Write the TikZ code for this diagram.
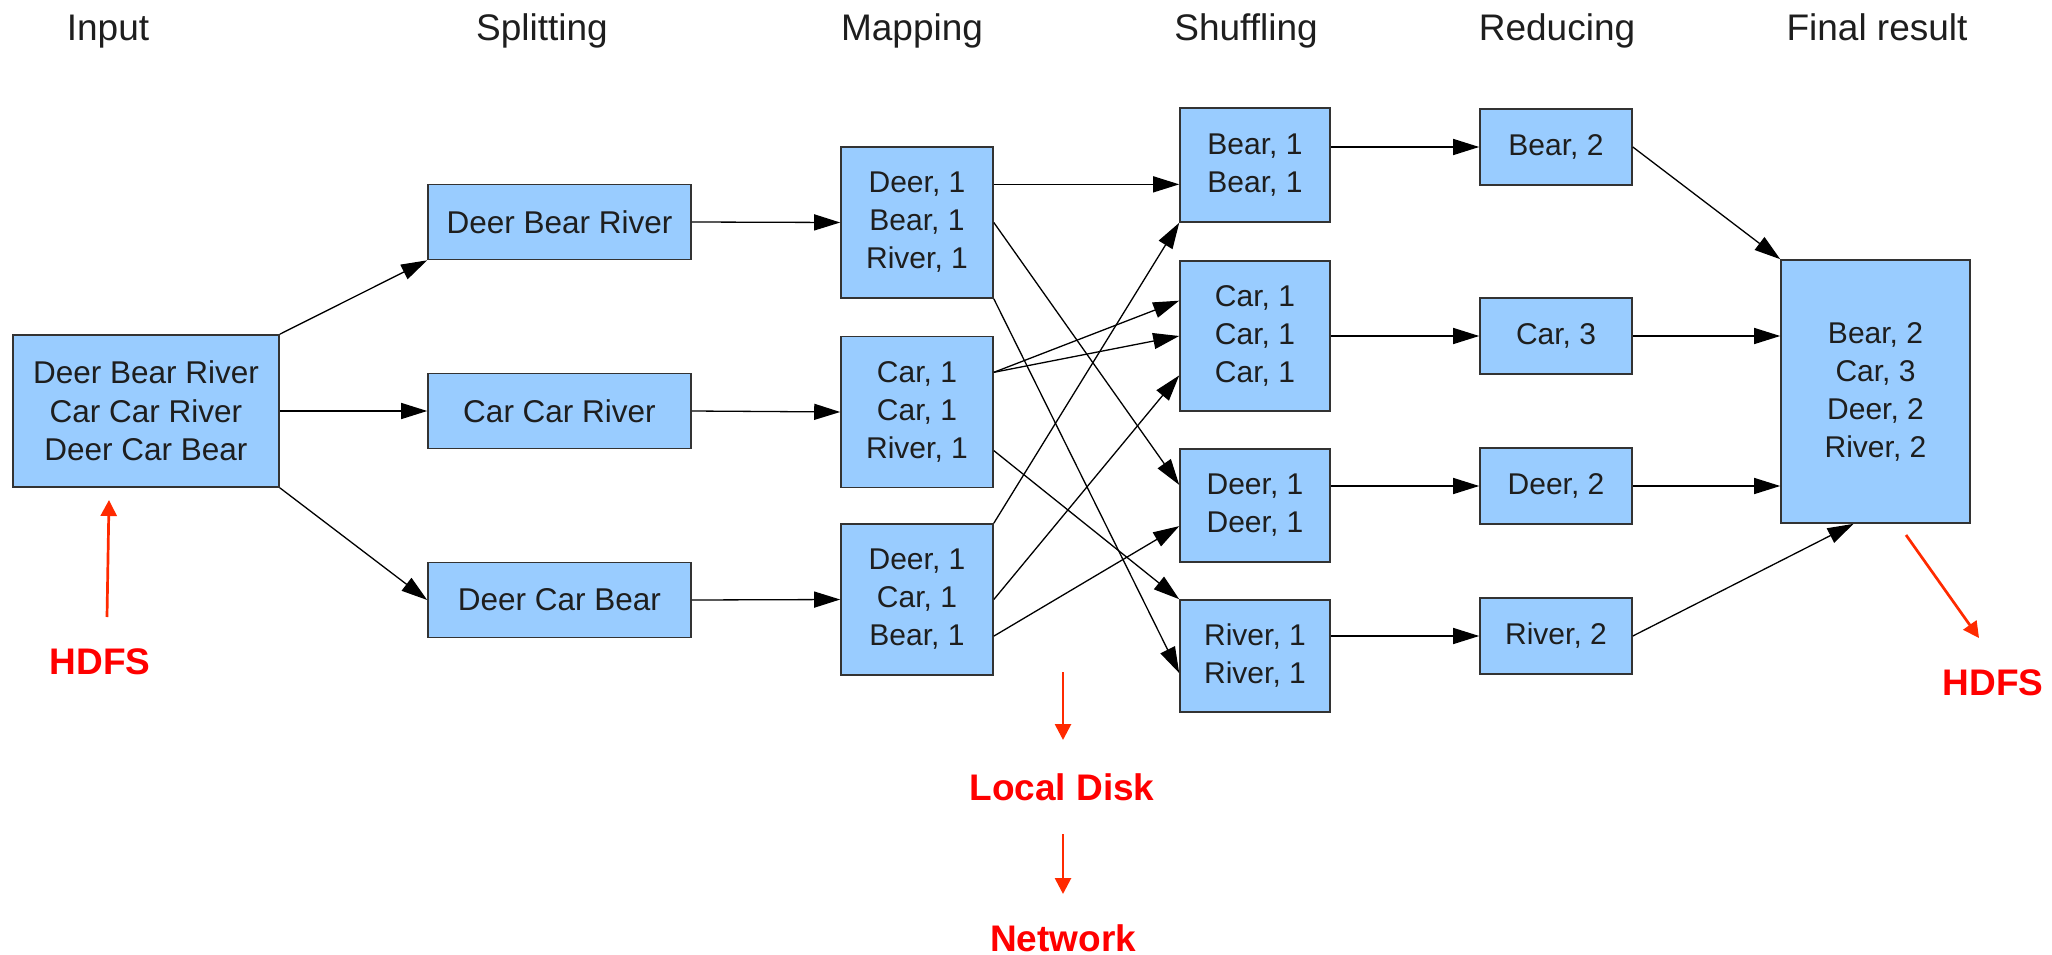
\documentclass[tikz,border=0pt]{standalone}
\usepackage{fontspec}
\setmainfont{Liberation Sans}
\usetikzlibrary{arrows.meta,calc}
\definecolor{boxblue}{HTML}{99CCFF}
\definecolor{boxline}{HTML}{333333}
\definecolor{inkgray}{HTML}{1E1E1E}
\definecolor{hdred}{HTML}{FF0000}
\definecolor{arrred}{HTML}{FF2A00}

\begin{document}
\begin{tikzpicture}[x=1pt,y=-1pt,
  box/.style={draw=boxline,line width=1.6pt,fill=boxblue,inner sep=0pt,align=center,
    font=\fontsize{30}{38}\selectfont,text=inkgray},
  widebox/.style={box,font=\fontsize{31.5}{38.5}\selectfont},
  coltitle/.style={anchor=base,font=\fontsize{37}{44}\selectfont,text=inkgray},
  redlabel/.style={anchor=base,font=\fontsize{37}{44}\selectfont\bfseries,text=hdred},
  conn/.style={draw=black,line width=1.3pt,-{Triangle[length=26pt,width=16pt]}},
  redarrow/.style={draw=arrred,line width=2.7pt,-{Triangle[length=16pt,width=16pt]}},
  splitbox/.style={widebox,minimum width=263pt,minimum height=75pt},
  mapbox/.style={box,minimum width=152pt,minimum height=151pt},
  shufbox/.style={box,minimum width=150pt},
  redbox/.style={box,minimum width=152pt,minimum height=76pt},
]
\useasboundingbox (0,0) rectangle (2052,955);

% column headings
\node[coltitle] (tin)  at (108,41)  {Input};
\node[coltitle] (tsp)  at (542,41)  {Splitting};
\node[coltitle] (tmap) at (912,41)  {Mapping};
\node[coltitle] (tsh)  at (1246,41) {Shuffling};
\node[coltitle] (tred) at (1557,41) {Reducing};
\node[coltitle] (tfin) at (1877,41) {Final result};

% input
\node[widebox,minimum width=266pt,minimum height=152pt] (in) at (146,411)
  {Deer Bear River\\Car Car River\\Deer Car Bear};

% splitting
\node[splitbox] (sp1) at (559.5,222) {Deer Bear River};
\node[splitbox] (sp2) at (559.5,411) {Car Car River};
\node[splitbox] (sp3) at (559.5,600) {Deer Car Bear};

% mapping
\node[mapbox] (m1) at (917,222.5) {Deer, 1\\Bear, 1\\River, 1};
\node[mapbox] (m2) at (917,412)   {Car, 1\\Car, 1\\River, 1};
\node[mapbox] (m3) at (917,599.5) {Deer, 1\\Car, 1\\Bear, 1};

% shuffling
\node[shufbox,minimum height=114pt] (s1) at (1255,165)   {Bear, 1\\Bear, 1};
\node[shufbox,minimum height=150pt] (s2) at (1255,336)   {Car, 1\\Car, 1\\Car, 1};
\node[shufbox,minimum height=113pt] (s3) at (1255,505.5) {Deer, 1\\Deer, 1};
\node[shufbox,minimum height=112pt] (s4) at (1255,656)   {River, 1\\River, 1};

% reducing
\node[redbox] (r1) at (1556,147) {Bear, 2};
\node[redbox] (r2) at (1556,336) {Car, 3};
\node[redbox] (r3) at (1556,486) {Deer, 2};
\node[redbox] (r4) at (1556,636) {River, 2};

% final result
\node[box,minimum width=189pt,minimum height=263pt] (fin) at (1875.5,391.5)
  {Bear, 2\\Car, 3\\Deer, 2\\River, 2};

% input -> splitting
\draw[conn] (in.north east) -- (sp1.south west);
\draw[conn] (in.east) -- (sp2.west);
\draw[conn] (in.south east) -- (sp3.west);

% splitting -> mapping
\draw[conn] (sp1.east) -- (m1.west);
\draw[conn] (sp2.east) -- (m2.west);
\draw[conn] (sp3.east) -- (m3.west);

% exit points on the mapping boxes
\coordinate (m1a) at ($(m1.north east)!0.25!(m1.south east)$);
\coordinate (m2a) at ($(m2.north east)!0.24!(m2.south east)$);
\coordinate (m2b) at ($(m2.north east)!0.753!(m2.south east)$);
\coordinate (m3b) at ($(m3.north east)!0.74!(m3.south east)$);
% entry points on the shuffling boxes
\coordinate (s2a) at ($(s2.north west)!0.267!(s2.south west)$);
\coordinate (s2c) at ($(s2.north west)!0.76!(s2.south west)$);
\coordinate (s3a) at ($(s3.north west)!0.32!(s3.south west)$);
\coordinate (s3b) at ($(s3.north west)!0.68!(s3.south west)$);
\coordinate (s4b) at ($(s4.north west)!0.65!(s4.south west)$);

% mapping -> shuffling
\draw[conn] (m1a) -- (m1a -| s1.west);
\draw[conn] (m1.east) -- (s3a);
\draw[conn] (m1.south east) -- (s4b);
\draw[conn] (m2a) -- (s2a);
\draw[conn] (m2a) -- (s2.west);
\draw[conn] (m2b) -- (s4.north west);
\draw[conn] (m3.north east) -- (s1.south west);
\draw[conn] (m3.east) -- (s2c);
\draw[conn] (m3b) -- (s3b);

% shuffling -> reducing
\draw[conn] (r1.west -| s1.east) -- (r1.west);
\draw[conn] (r2.west -| s2.east) -- (r2.west);
\draw[conn] (r3.west -| s3.east) -- (r3.west);
\draw[conn] (r4.west -| s4.east) -- (r4.west);

% reducing -> final result
\coordinate (fin4) at ($(fin.south west)!0.385!(fin.south east)$);
\draw[conn] (r1.east) -- (fin.north west);
\draw[conn] (r2.east) -- (r2.east -| fin.west);
\draw[conn] (r3.east) -- (r3.east -| fin.west);
\draw[conn] (r4.east) -- (fin4);

% storage annotations
\node[redlabel] (hdfsin)  at (100,674)  {HDFS};
\node[redlabel] (disk)    at (1062,800) {Local Disk};
\node[redlabel] (net)     at (1063,951) {Network};
\node[redlabel] (hdfsout) at (1993,695) {HDFS};

\coordinate (hin0) at (107,617);
\coordinate (hin1) at (109,500);
\coordinate (dk0) at (1063,672);
\coordinate (dk1) at (1063,740);
\coordinate (nt0) at (1063,834);
\coordinate (nt1) at (1063,894);
\coordinate (hout0) at (1906,535);
\coordinate (hout1) at (1979,638);

\draw[redarrow] (hin0) -- (hin1);
\draw[redarrow] (dk0) -- (dk1);
\draw[redarrow] (nt0) -- (nt1);
\draw[redarrow] (hout0) -- (hout1);
\end{tikzpicture}
\end{document}
